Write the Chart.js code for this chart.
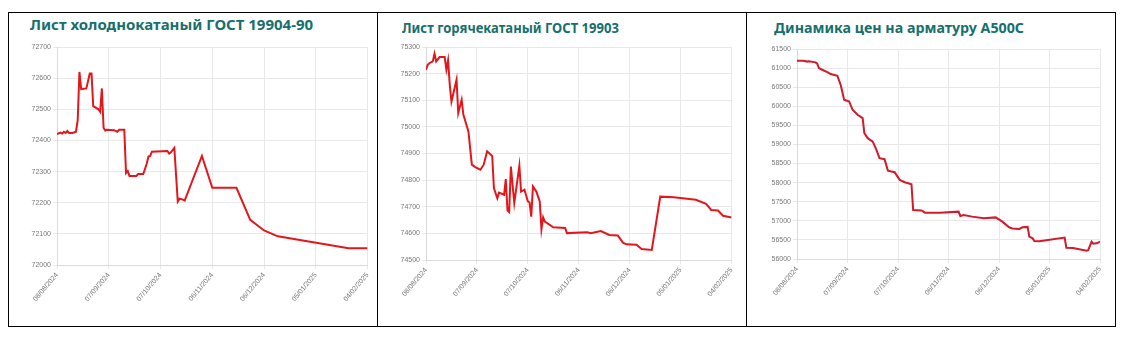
<!DOCTYPE html>
<html>
<head>
<meta charset="utf-8">
<script src="https://cdn.jsdelivr.net/npm/chart.js@4.4.1/dist/chart.umd.min.js"></script>
<style>
body { margin: 0; background: #fff; width: 1128px; height: 339px; position: relative; overflow: hidden; }
#frame { position: absolute; left: 8px; top: 12px; width: 1108px; height: 315px; border: 1px solid #000; box-sizing: border-box; }
.divider { position: absolute; top: 12px; width: 1px; height: 315px; background: #000; }
.title { position: absolute; font-family: "Noto Sans", sans-serif; font-weight: bold; font-size: 15px; line-height: 15px; color: #17706e; white-space: nowrap; transform-origin: left top; }
canvas { position: absolute; }
</style>
</head>
<body>
<div id="frame"></div>
<div class="divider" style="left:377px"></div>
<div class="divider" style="left:746px"></div>

<div class="title" id="t1" style="left:30px; top:17px">Лист холоднокатаный ГОСТ 19904-90</div>
<div class="title" id="t2" style="left:402px; top:20px; transform: scaleX(0.87)">Лист горячекатаный ГОСТ 19903</div>
<div class="title" id="t3" style="left:774px; top:20px; transform: scaleX(0.95)">Динамика цен на арматуру А500С</div>

<canvas id="cold" width="366" height="280" style="left:10px; top:40px"></canvas>
<canvas id="hot" width="361" height="280" style="left:379px; top:40px"></canvas>
<canvas id="rebar" width="362" height="280" style="left:748px; top:40px"></canvas>

<script>
// x positions are days counted from 08/08/2024, ticks every 30 days
const dateTicks = ['08/08/2024', '07/09/2024', '07/10/2024', '06/11/2024', '06/12/2024', '05/01/2025', '04/02/2025'];

// cold-rolled sheet, GOST 19904-90
const coldDays = [0, 2, 3, 4, 5, 6, 7, 9, 11, 12, 13, 14, 17, 19, 20, 21, 24, 25, 26, 27, 28, 29, 33, 35, 36, 39, 40, 41, 42, 46, 47, 50, 52, 53, 54, 55, 64, 65, 66, 68, 70, 71, 73, 74, 84, 90, 104, 112, 120, 128, 169, 180];
const coldPrices = [72420, 72425, 72422, 72428, 72424, 72430, 72424, 72424, 72428, 72465, 72620, 72565, 72567, 72615, 72615, 72510, 72500, 72492, 72567, 72440, 72432, 72434, 72433, 72428, 72434, 72434, 72295, 72302, 72286, 72286, 72292, 72292, 72325, 72348, 72350, 72364, 72366, 72358, 72362, 72376, 72204, 72213, 72210, 72207, 72350, 72248, 72248, 72145, 72111, 72092, 72054, 72054];

// hot-rolled sheet, GOST 19903
const hotDays = [0, 1, 2, 4, 5, 6, 8, 11, 12, 13, 14, 15, 18, 19, 21, 22, 25, 27, 29, 32, 34, 36, 39, 40, 42, 43, 46, 47, 48, 49, 50, 52, 55, 56, 58, 60, 61, 62, 63, 65, 67, 68, 69, 70, 75, 82, 83, 95, 97, 103, 108, 113, 116, 118, 124, 127, 133, 138, 146, 159, 165, 168, 172, 175, 180];
const hotPrices = [75215, 75233, 75239, 75246, 75275, 75246, 75262, 75262, 75215, 75250, 75158, 75095, 75177, 75052, 75102, 75046, 74983, 74858, 74849, 74839, 74858, 74908, 74891, 74770, 74732, 74753, 74745, 74804, 74686, 74680, 74851, 74714, 74854, 74757, 74764, 74720, 74716, 74663, 74776, 74757, 74720, 74615, 74660, 74644, 74623, 74620, 74601, 74604, 74601, 74609, 74594, 74592, 74565, 74559, 74557, 74541, 74538, 74738, 74736, 74726, 74711, 74688, 74686, 74666, 74660];

// rebar A500C
const rebarDays = [0, 4, 6, 7, 11, 12, 13, 15, 18, 20, 24, 26, 28, 31, 33, 36, 39, 40, 42, 45, 47, 49, 52, 54, 58, 61, 64, 66, 68, 69, 74, 76, 85, 96, 97, 99, 104, 111, 118, 122, 126, 128, 132, 134, 137, 138, 140, 141, 144, 159, 160, 164, 172, 173, 175, 176, 178, 180];
const rebarPrices = [61190, 61190, 61170, 61180, 61150, 61115, 61000, 60957, 60897, 60844, 60800, 60550, 60170, 60126, 59908, 59777, 59690, 59296, 59165, 59076, 58877, 58641, 58614, 58315, 58273, 58072, 58010, 57985, 57960, 57284, 57270, 57214, 57214, 57240, 57127, 57150, 57110, 57067, 57090, 56978, 56830, 56800, 56786, 56830, 56840, 56584, 56540, 56470, 56465, 56560, 56296, 56290, 56217, 56230, 56453, 56400, 56410, 56453];

const tickFont = { family: 'Arial, "Liberation Sans", sans-serif', size: 7 };

function makeChart(id, days, prices, yMin, yMax, yStep, color, yWidth, xHeight, pad) {
    const points = days.map((d, i) => ({ x: d, y: prices[i] }));
    return new Chart(document.getElementById(id), {
        type: 'line',
        data: {
            datasets: [{
                data: points,
                borderColor: color,
                borderWidth: 2,
                pointRadius: 0,
                tension: 0,
                fill: false
            }]
        },
        options: {
            responsive: false,
            animation: false,
            layout: { padding: pad },
            plugins: { legend: { display: false }, tooltip: { enabled: false } },
            scales: {
                x: {
                    type: 'linear',
                    min: 0,
                    max: 180,
                    grid: { color: '#e8e8e8', tickLength: 4 },
                    border: { color: '#d9d9d9' },
                    ticks: {
                        stepSize: 30,
                        minRotation: 50,
                        maxRotation: 50,
                        padding: 2,
                        color: '#777',
                        font: tickFont,
                        callback: (v) => dateTicks[v / 30]
                    },
                    afterFit: (scale) => { scale.height = xHeight; }
                },
                y: {
                    min: yMin,
                    max: yMax,
                    grid: { color: '#e8e8e8', tickLength: 4 },
                    border: { color: '#d9d9d9' },
                    ticks: {
                        stepSize: yStep,
                        padding: 2,
                        color: '#777',
                        font: tickFont,
                        callback: (v) => String(v)
                    },
                    afterFit: (scale) => { scale.width = yWidth; }
                }
            }
        }
    });
}

makeChart('cold', coldDays, coldPrices, 72000, 72700, 100, '#e3171b', 47, 55, { top: 7, right: 3, left: 0, bottom: 0 });
makeChart('hot', hotDays, hotPrices, 74500, 75300, 100, '#e3171b', 47, 60, { top: 7, right: 6, left: 0, bottom: 0 });
makeChart('rebar', rebarDays, rebarPrices, 56000, 61500, 500, '#d3192b', 49, 61, { top: 9, right: 10, left: 0, bottom: 0 });
</script>
</body>
</html>
